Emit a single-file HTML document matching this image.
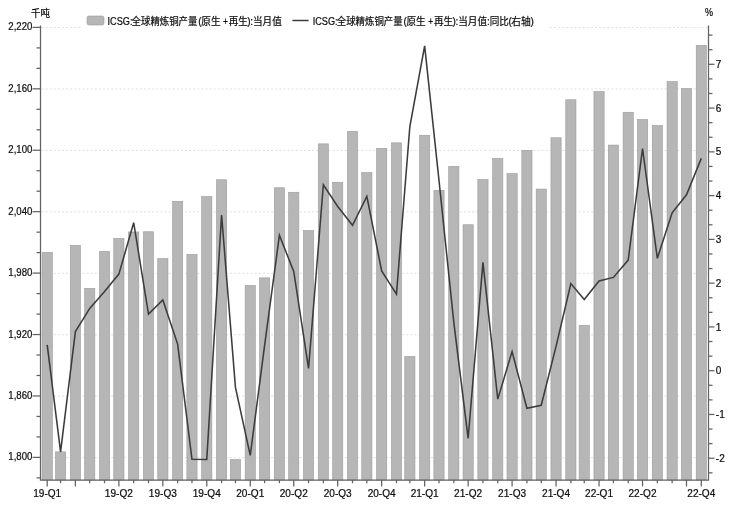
<!DOCTYPE html>
<html lang="zh"><head><meta charset="utf-8"><title>ICSG</title>
<style>html,body{margin:0;padding:0;background:#fff}svg{display:block;filter:grayscale(1)}</style></head>
<body>
<svg width="730" height="505" viewBox="0 0 730 505">
<rect width="730" height="505" fill="#fff"/>
<line x1="41.5" x2="707.5" y1="457.60" y2="457.60" stroke="#dedede" stroke-width="1" stroke-dasharray="2 2.1"/>
<line x1="41.5" x2="707.5" y1="396.17" y2="396.17" stroke="#dedede" stroke-width="1" stroke-dasharray="2 2.1"/>
<line x1="41.5" x2="707.5" y1="334.74" y2="334.74" stroke="#dedede" stroke-width="1" stroke-dasharray="2 2.1"/>
<line x1="41.5" x2="707.5" y1="273.31" y2="273.31" stroke="#dedede" stroke-width="1" stroke-dasharray="2 2.1"/>
<line x1="41.5" x2="707.5" y1="211.89" y2="211.89" stroke="#dedede" stroke-width="1" stroke-dasharray="2 2.1"/>
<line x1="41.5" x2="707.5" y1="150.46" y2="150.46" stroke="#dedede" stroke-width="1" stroke-dasharray="2 2.1"/>
<line x1="41.5" x2="707.5" y1="89.03" y2="89.03" stroke="#dedede" stroke-width="1" stroke-dasharray="2 2.1"/>
<line x1="41.5" x2="707.5" y1="27.60" y2="27.60" stroke="#dedede" stroke-width="1" stroke-dasharray="2 2.1"/>
<rect x="82" y="10" width="466" height="22" fill="#fff"/>
<rect x="42.10" y="252.35" width="10.2" height="227.65" fill="#b6b6b6" stroke="#9c9c9c" stroke-width="0.6"/>
<rect x="55.48" y="451.85" width="10.2" height="28.15" fill="#b6b6b6" stroke="#9c9c9c" stroke-width="0.6"/>
<rect x="70.29" y="245.35" width="10.2" height="234.65" fill="#b6b6b6" stroke="#9c9c9c" stroke-width="0.6"/>
<rect x="84.62" y="288.35" width="10.2" height="191.65" fill="#b6b6b6" stroke="#9c9c9c" stroke-width="0.6"/>
<rect x="99.44" y="251.35" width="10.2" height="228.65" fill="#b6b6b6" stroke="#9c9c9c" stroke-width="0.6"/>
<rect x="113.77" y="238.35" width="10.2" height="241.65" fill="#b6b6b6" stroke="#9c9c9c" stroke-width="0.6"/>
<rect x="128.58" y="231.95" width="10.2" height="248.05" fill="#b6b6b6" stroke="#9c9c9c" stroke-width="0.6"/>
<rect x="143.39" y="231.75" width="10.2" height="248.25" fill="#b6b6b6" stroke="#9c9c9c" stroke-width="0.6"/>
<rect x="157.73" y="258.55" width="10.2" height="221.45" fill="#b6b6b6" stroke="#9c9c9c" stroke-width="0.6"/>
<rect x="172.54" y="201.35" width="10.2" height="278.65" fill="#b6b6b6" stroke="#9c9c9c" stroke-width="0.6"/>
<rect x="186.87" y="254.35" width="10.2" height="225.65" fill="#b6b6b6" stroke="#9c9c9c" stroke-width="0.6"/>
<rect x="201.68" y="196.55" width="10.2" height="283.45" fill="#b6b6b6" stroke="#9c9c9c" stroke-width="0.6"/>
<rect x="216.49" y="179.75" width="10.2" height="300.25" fill="#b6b6b6" stroke="#9c9c9c" stroke-width="0.6"/>
<rect x="230.35" y="459.45" width="10.2" height="20.55" fill="#b6b6b6" stroke="#9c9c9c" stroke-width="0.6"/>
<rect x="245.16" y="285.55" width="10.2" height="194.45" fill="#b6b6b6" stroke="#9c9c9c" stroke-width="0.6"/>
<rect x="259.50" y="277.85" width="10.2" height="202.15" fill="#b6b6b6" stroke="#9c9c9c" stroke-width="0.6"/>
<rect x="274.31" y="187.75" width="10.2" height="292.25" fill="#b6b6b6" stroke="#9c9c9c" stroke-width="0.6"/>
<rect x="288.64" y="192.25" width="10.2" height="287.75" fill="#b6b6b6" stroke="#9c9c9c" stroke-width="0.6"/>
<rect x="303.45" y="230.45" width="10.2" height="249.55" fill="#b6b6b6" stroke="#9c9c9c" stroke-width="0.6"/>
<rect x="318.26" y="143.85" width="10.2" height="336.15" fill="#b6b6b6" stroke="#9c9c9c" stroke-width="0.6"/>
<rect x="332.60" y="182.25" width="10.2" height="297.75" fill="#b6b6b6" stroke="#9c9c9c" stroke-width="0.6"/>
<rect x="347.41" y="131.35" width="10.2" height="348.65" fill="#b6b6b6" stroke="#9c9c9c" stroke-width="0.6"/>
<rect x="361.74" y="172.45" width="10.2" height="307.55" fill="#b6b6b6" stroke="#9c9c9c" stroke-width="0.6"/>
<rect x="376.56" y="148.35" width="10.2" height="331.65" fill="#b6b6b6" stroke="#9c9c9c" stroke-width="0.6"/>
<rect x="391.37" y="142.85" width="10.2" height="337.15" fill="#b6b6b6" stroke="#9c9c9c" stroke-width="0.6"/>
<rect x="404.75" y="356.45" width="10.2" height="123.55" fill="#b6b6b6" stroke="#9c9c9c" stroke-width="0.6"/>
<rect x="419.56" y="135.25" width="10.2" height="344.75" fill="#b6b6b6" stroke="#9c9c9c" stroke-width="0.6"/>
<rect x="433.89" y="190.25" width="10.2" height="289.75" fill="#b6b6b6" stroke="#9c9c9c" stroke-width="0.6"/>
<rect x="448.70" y="166.35" width="10.2" height="313.65" fill="#b6b6b6" stroke="#9c9c9c" stroke-width="0.6"/>
<rect x="463.04" y="224.75" width="10.2" height="255.25" fill="#b6b6b6" stroke="#9c9c9c" stroke-width="0.6"/>
<rect x="477.85" y="179.55" width="10.2" height="300.45" fill="#b6b6b6" stroke="#9c9c9c" stroke-width="0.6"/>
<rect x="492.66" y="158.35" width="10.2" height="321.65" fill="#b6b6b6" stroke="#9c9c9c" stroke-width="0.6"/>
<rect x="506.99" y="173.55" width="10.2" height="306.45" fill="#b6b6b6" stroke="#9c9c9c" stroke-width="0.6"/>
<rect x="521.81" y="150.35" width="10.2" height="329.65" fill="#b6b6b6" stroke="#9c9c9c" stroke-width="0.6"/>
<rect x="536.14" y="189.05" width="10.2" height="290.95" fill="#b6b6b6" stroke="#9c9c9c" stroke-width="0.6"/>
<rect x="550.95" y="137.75" width="10.2" height="342.25" fill="#b6b6b6" stroke="#9c9c9c" stroke-width="0.6"/>
<rect x="565.76" y="99.75" width="10.2" height="380.25" fill="#b6b6b6" stroke="#9c9c9c" stroke-width="0.6"/>
<rect x="579.14" y="325.35" width="10.2" height="154.65" fill="#b6b6b6" stroke="#9c9c9c" stroke-width="0.6"/>
<rect x="593.95" y="91.55" width="10.2" height="388.45" fill="#b6b6b6" stroke="#9c9c9c" stroke-width="0.6"/>
<rect x="608.29" y="145.05" width="10.2" height="334.95" fill="#b6b6b6" stroke="#9c9c9c" stroke-width="0.6"/>
<rect x="623.10" y="112.25" width="10.2" height="367.75" fill="#b6b6b6" stroke="#9c9c9c" stroke-width="0.6"/>
<rect x="637.43" y="119.45" width="10.2" height="360.55" fill="#b6b6b6" stroke="#9c9c9c" stroke-width="0.6"/>
<rect x="652.24" y="125.45" width="10.2" height="354.55" fill="#b6b6b6" stroke="#9c9c9c" stroke-width="0.6"/>
<rect x="667.05" y="81.55" width="10.2" height="398.45" fill="#b6b6b6" stroke="#9c9c9c" stroke-width="0.6"/>
<rect x="681.39" y="88.55" width="10.2" height="391.45" fill="#b6b6b6" stroke="#9c9c9c" stroke-width="0.6"/>
<rect x="696.20" y="45.35" width="10.2" height="434.65" fill="#b6b6b6" stroke="#9c9c9c" stroke-width="0.6"/>
<path d="M40.5 25.5V480.0H708.5V25.5" fill="none" stroke="#626262" stroke-width="1.25"/>
<line x1="36.5" x2="40.5" y1="477.88" y2="477.88" stroke="#626262" stroke-width="1.25"/>
<line x1="32.5" x2="40.5" y1="457.40" y2="457.40" stroke="#626262" stroke-width="1.25"/>
<line x1="36.5" x2="40.5" y1="436.92" y2="436.92" stroke="#626262" stroke-width="1.25"/>
<line x1="36.5" x2="40.5" y1="416.45" y2="416.45" stroke="#626262" stroke-width="1.25"/>
<line x1="32.5" x2="40.5" y1="395.97" y2="395.97" stroke="#626262" stroke-width="1.25"/>
<line x1="36.5" x2="40.5" y1="375.50" y2="375.50" stroke="#626262" stroke-width="1.25"/>
<line x1="36.5" x2="40.5" y1="355.02" y2="355.02" stroke="#626262" stroke-width="1.25"/>
<line x1="32.5" x2="40.5" y1="334.54" y2="334.54" stroke="#626262" stroke-width="1.25"/>
<line x1="36.5" x2="40.5" y1="314.07" y2="314.07" stroke="#626262" stroke-width="1.25"/>
<line x1="36.5" x2="40.5" y1="293.59" y2="293.59" stroke="#626262" stroke-width="1.25"/>
<line x1="32.5" x2="40.5" y1="273.11" y2="273.11" stroke="#626262" stroke-width="1.25"/>
<line x1="36.5" x2="40.5" y1="252.64" y2="252.64" stroke="#626262" stroke-width="1.25"/>
<line x1="36.5" x2="40.5" y1="232.16" y2="232.16" stroke="#626262" stroke-width="1.25"/>
<line x1="32.5" x2="40.5" y1="211.69" y2="211.69" stroke="#626262" stroke-width="1.25"/>
<line x1="36.5" x2="40.5" y1="191.21" y2="191.21" stroke="#626262" stroke-width="1.25"/>
<line x1="36.5" x2="40.5" y1="170.73" y2="170.73" stroke="#626262" stroke-width="1.25"/>
<line x1="32.5" x2="40.5" y1="150.26" y2="150.26" stroke="#626262" stroke-width="1.25"/>
<line x1="36.5" x2="40.5" y1="129.78" y2="129.78" stroke="#626262" stroke-width="1.25"/>
<line x1="36.5" x2="40.5" y1="109.30" y2="109.30" stroke="#626262" stroke-width="1.25"/>
<line x1="32.5" x2="40.5" y1="88.83" y2="88.83" stroke="#626262" stroke-width="1.25"/>
<line x1="36.5" x2="40.5" y1="68.35" y2="68.35" stroke="#626262" stroke-width="1.25"/>
<line x1="36.5" x2="40.5" y1="47.88" y2="47.88" stroke="#626262" stroke-width="1.25"/>
<line x1="32.5" x2="40.5" y1="27.40" y2="27.40" stroke="#626262" stroke-width="1.25"/>
<line x1="708.5" x2="712.5" y1="472.83" y2="472.83" stroke="#626262" stroke-width="1.25"/>
<line x1="708.5" x2="714.5" y1="458.24" y2="458.24" stroke="#626262" stroke-width="1.25"/>
<line x1="708.5" x2="712.5" y1="443.65" y2="443.65" stroke="#626262" stroke-width="1.25"/>
<line x1="708.5" x2="712.5" y1="429.06" y2="429.06" stroke="#626262" stroke-width="1.25"/>
<line x1="708.5" x2="714.5" y1="414.47" y2="414.47" stroke="#626262" stroke-width="1.25"/>
<line x1="708.5" x2="712.5" y1="399.88" y2="399.88" stroke="#626262" stroke-width="1.25"/>
<line x1="708.5" x2="712.5" y1="385.29" y2="385.29" stroke="#626262" stroke-width="1.25"/>
<line x1="708.5" x2="714.5" y1="370.70" y2="370.70" stroke="#626262" stroke-width="1.25"/>
<line x1="708.5" x2="712.5" y1="356.11" y2="356.11" stroke="#626262" stroke-width="1.25"/>
<line x1="708.5" x2="712.5" y1="341.52" y2="341.52" stroke="#626262" stroke-width="1.25"/>
<line x1="708.5" x2="714.5" y1="326.93" y2="326.93" stroke="#626262" stroke-width="1.25"/>
<line x1="708.5" x2="712.5" y1="312.34" y2="312.34" stroke="#626262" stroke-width="1.25"/>
<line x1="708.5" x2="712.5" y1="297.75" y2="297.75" stroke="#626262" stroke-width="1.25"/>
<line x1="708.5" x2="714.5" y1="283.16" y2="283.16" stroke="#626262" stroke-width="1.25"/>
<line x1="708.5" x2="712.5" y1="268.57" y2="268.57" stroke="#626262" stroke-width="1.25"/>
<line x1="708.5" x2="712.5" y1="253.98" y2="253.98" stroke="#626262" stroke-width="1.25"/>
<line x1="708.5" x2="714.5" y1="239.39" y2="239.39" stroke="#626262" stroke-width="1.25"/>
<line x1="708.5" x2="712.5" y1="224.80" y2="224.80" stroke="#626262" stroke-width="1.25"/>
<line x1="708.5" x2="712.5" y1="210.21" y2="210.21" stroke="#626262" stroke-width="1.25"/>
<line x1="708.5" x2="714.5" y1="195.62" y2="195.62" stroke="#626262" stroke-width="1.25"/>
<line x1="708.5" x2="712.5" y1="181.03" y2="181.03" stroke="#626262" stroke-width="1.25"/>
<line x1="708.5" x2="712.5" y1="166.44" y2="166.44" stroke="#626262" stroke-width="1.25"/>
<line x1="708.5" x2="714.5" y1="151.85" y2="151.85" stroke="#626262" stroke-width="1.25"/>
<line x1="708.5" x2="712.5" y1="137.26" y2="137.26" stroke="#626262" stroke-width="1.25"/>
<line x1="708.5" x2="712.5" y1="122.67" y2="122.67" stroke="#626262" stroke-width="1.25"/>
<line x1="708.5" x2="714.5" y1="108.08" y2="108.08" stroke="#626262" stroke-width="1.25"/>
<line x1="708.5" x2="712.5" y1="93.49" y2="93.49" stroke="#626262" stroke-width="1.25"/>
<line x1="708.5" x2="712.5" y1="78.90" y2="78.90" stroke="#626262" stroke-width="1.25"/>
<line x1="708.5" x2="714.5" y1="64.31" y2="64.31" stroke="#626262" stroke-width="1.25"/>
<line x1="708.5" x2="712.5" y1="49.72" y2="49.72" stroke="#626262" stroke-width="1.25"/>
<line x1="708.5" x2="712.5" y1="35.13" y2="35.13" stroke="#626262" stroke-width="1.25"/>
<line x1="47.20" x2="47.20" y1="480.0" y2="486.5" stroke="#626262" stroke-width="1.25"/>
<line x1="60.58" x2="60.58" y1="480.0" y2="483.2" stroke="#626262" stroke-width="1.25"/>
<line x1="75.39" x2="75.39" y1="480.0" y2="486.5" stroke="#626262" stroke-width="1.25"/>
<line x1="89.72" x2="89.72" y1="480.0" y2="483.2" stroke="#626262" stroke-width="1.25"/>
<line x1="104.54" x2="104.54" y1="480.0" y2="483.2" stroke="#626262" stroke-width="1.25"/>
<line x1="118.87" x2="118.87" y1="480.0" y2="486.5" stroke="#626262" stroke-width="1.25"/>
<line x1="133.68" x2="133.68" y1="480.0" y2="483.2" stroke="#626262" stroke-width="1.25"/>
<line x1="148.49" x2="148.49" y1="480.0" y2="483.2" stroke="#626262" stroke-width="1.25"/>
<line x1="162.83" x2="162.83" y1="480.0" y2="486.5" stroke="#626262" stroke-width="1.25"/>
<line x1="177.64" x2="177.64" y1="480.0" y2="483.2" stroke="#626262" stroke-width="1.25"/>
<line x1="191.97" x2="191.97" y1="480.0" y2="483.2" stroke="#626262" stroke-width="1.25"/>
<line x1="206.78" x2="206.78" y1="480.0" y2="486.5" stroke="#626262" stroke-width="1.25"/>
<line x1="221.59" x2="221.59" y1="480.0" y2="483.2" stroke="#626262" stroke-width="1.25"/>
<line x1="235.45" x2="235.45" y1="480.0" y2="483.2" stroke="#626262" stroke-width="1.25"/>
<line x1="250.26" x2="250.26" y1="480.0" y2="486.5" stroke="#626262" stroke-width="1.25"/>
<line x1="264.60" x2="264.60" y1="480.0" y2="483.2" stroke="#626262" stroke-width="1.25"/>
<line x1="279.41" x2="279.41" y1="480.0" y2="483.2" stroke="#626262" stroke-width="1.25"/>
<line x1="293.74" x2="293.74" y1="480.0" y2="486.5" stroke="#626262" stroke-width="1.25"/>
<line x1="308.55" x2="308.55" y1="480.0" y2="483.2" stroke="#626262" stroke-width="1.25"/>
<line x1="323.36" x2="323.36" y1="480.0" y2="483.2" stroke="#626262" stroke-width="1.25"/>
<line x1="337.70" x2="337.70" y1="480.0" y2="486.5" stroke="#626262" stroke-width="1.25"/>
<line x1="352.51" x2="352.51" y1="480.0" y2="483.2" stroke="#626262" stroke-width="1.25"/>
<line x1="366.84" x2="366.84" y1="480.0" y2="483.2" stroke="#626262" stroke-width="1.25"/>
<line x1="381.66" x2="381.66" y1="480.0" y2="486.5" stroke="#626262" stroke-width="1.25"/>
<line x1="396.47" x2="396.47" y1="480.0" y2="483.2" stroke="#626262" stroke-width="1.25"/>
<line x1="409.85" x2="409.85" y1="480.0" y2="483.2" stroke="#626262" stroke-width="1.25"/>
<line x1="424.66" x2="424.66" y1="480.0" y2="486.5" stroke="#626262" stroke-width="1.25"/>
<line x1="438.99" x2="438.99" y1="480.0" y2="483.2" stroke="#626262" stroke-width="1.25"/>
<line x1="453.80" x2="453.80" y1="480.0" y2="483.2" stroke="#626262" stroke-width="1.25"/>
<line x1="468.14" x2="468.14" y1="480.0" y2="486.5" stroke="#626262" stroke-width="1.25"/>
<line x1="482.95" x2="482.95" y1="480.0" y2="483.2" stroke="#626262" stroke-width="1.25"/>
<line x1="497.76" x2="497.76" y1="480.0" y2="483.2" stroke="#626262" stroke-width="1.25"/>
<line x1="512.09" x2="512.09" y1="480.0" y2="486.5" stroke="#626262" stroke-width="1.25"/>
<line x1="526.91" x2="526.91" y1="480.0" y2="483.2" stroke="#626262" stroke-width="1.25"/>
<line x1="541.24" x2="541.24" y1="480.0" y2="483.2" stroke="#626262" stroke-width="1.25"/>
<line x1="556.05" x2="556.05" y1="480.0" y2="486.5" stroke="#626262" stroke-width="1.25"/>
<line x1="570.86" x2="570.86" y1="480.0" y2="483.2" stroke="#626262" stroke-width="1.25"/>
<line x1="584.24" x2="584.24" y1="480.0" y2="483.2" stroke="#626262" stroke-width="1.25"/>
<line x1="599.05" x2="599.05" y1="480.0" y2="486.5" stroke="#626262" stroke-width="1.25"/>
<line x1="613.39" x2="613.39" y1="480.0" y2="483.2" stroke="#626262" stroke-width="1.25"/>
<line x1="628.20" x2="628.20" y1="480.0" y2="483.2" stroke="#626262" stroke-width="1.25"/>
<line x1="642.53" x2="642.53" y1="480.0" y2="486.5" stroke="#626262" stroke-width="1.25"/>
<line x1="657.34" x2="657.34" y1="480.0" y2="483.2" stroke="#626262" stroke-width="1.25"/>
<line x1="672.15" x2="672.15" y1="480.0" y2="483.2" stroke="#626262" stroke-width="1.25"/>
<line x1="686.49" x2="686.49" y1="480.0" y2="486.5" stroke="#626262" stroke-width="1.25"/>
<line x1="701.30" x2="701.30" y1="480.0" y2="486.5" stroke="#626262" stroke-width="1.25"/>
<polyline points="47.20,344.80 60.58,451.80 75.39,331.60 89.72,308.40 104.54,291.60 118.87,274.10 133.68,222.70 148.49,314.10 162.83,299.90 177.64,344.10 191.97,459.30 206.78,459.40 221.59,215.00 235.45,387.40 250.26,455.30 264.60,345.40 279.41,235.30 293.74,271.40 308.55,368.40 323.36,184.80 337.70,206.50 352.51,225.30 366.84,196.40 381.66,270.90 396.47,294.10 409.85,126.50 424.66,45.90 438.99,180.40 453.80,322.40 468.14,438.30 482.95,262.40 497.76,399.10 512.09,351.50 526.91,408.30 541.24,405.30 556.05,346.40 570.86,283.60 584.24,299.60 599.05,280.90 613.39,277.40 628.20,260.10 642.53,148.70 657.34,258.30 672.15,212.80 686.49,194.80 701.30,158.40" fill="none" stroke="#3c3c3c" stroke-width="1.55" stroke-linejoin="miter"/>
<g font-family="&quot;Liberation Sans&quot;, &quot;Noto Sans CJK SC&quot;, sans-serif" font-size="10" fill="#0d0d0d" stroke="#0d0d0d" stroke-width="0.22" stroke-linejoin="round">
<text x="32.3" y="460.40" text-anchor="end" textLength="24" lengthAdjust="spacingAndGlyphs">1,800</text>
<text x="32.3" y="398.97" text-anchor="end" textLength="24" lengthAdjust="spacingAndGlyphs">1,860</text>
<text x="32.3" y="337.54" text-anchor="end" textLength="24" lengthAdjust="spacingAndGlyphs">1,920</text>
<text x="32.3" y="276.11" text-anchor="end" textLength="24" lengthAdjust="spacingAndGlyphs">1,980</text>
<text x="32.3" y="214.69" text-anchor="end" textLength="24" lengthAdjust="spacingAndGlyphs">2,040</text>
<text x="32.3" y="153.26" text-anchor="end" textLength="24" lengthAdjust="spacingAndGlyphs">2,100</text>
<text x="32.3" y="91.83" text-anchor="end" textLength="24" lengthAdjust="spacingAndGlyphs">2,160</text>
<text x="32.3" y="30.40" text-anchor="end" textLength="24" lengthAdjust="spacingAndGlyphs">2,220</text>
<text x="715.8" y="461.84">-2</text>
<text x="715.8" y="418.07">-1</text>
<text x="715.8" y="374.30">0</text>
<text x="715.8" y="330.53">1</text>
<text x="715.8" y="286.76">2</text>
<text x="715.8" y="242.99">3</text>
<text x="715.8" y="199.22">4</text>
<text x="715.8" y="155.45">5</text>
<text x="715.8" y="111.68">6</text>
<text x="715.8" y="67.91">7</text>
<text x="47.20" y="497" text-anchor="middle" textLength="28" lengthAdjust="spacingAndGlyphs">19-Q1</text>
<text x="118.87" y="497" text-anchor="middle" textLength="28" lengthAdjust="spacingAndGlyphs">19-Q2</text>
<text x="162.83" y="497" text-anchor="middle" textLength="28" lengthAdjust="spacingAndGlyphs">19-Q3</text>
<text x="206.78" y="497" text-anchor="middle" textLength="28" lengthAdjust="spacingAndGlyphs">19-Q4</text>
<text x="250.26" y="497" text-anchor="middle" textLength="28" lengthAdjust="spacingAndGlyphs">20-Q1</text>
<text x="293.74" y="497" text-anchor="middle" textLength="28" lengthAdjust="spacingAndGlyphs">20-Q2</text>
<text x="337.70" y="497" text-anchor="middle" textLength="28" lengthAdjust="spacingAndGlyphs">20-Q3</text>
<text x="381.66" y="497" text-anchor="middle" textLength="28" lengthAdjust="spacingAndGlyphs">20-Q4</text>
<text x="424.66" y="497" text-anchor="middle" textLength="28" lengthAdjust="spacingAndGlyphs">21-Q1</text>
<text x="468.14" y="497" text-anchor="middle" textLength="28" lengthAdjust="spacingAndGlyphs">21-Q2</text>
<text x="512.09" y="497" text-anchor="middle" textLength="28" lengthAdjust="spacingAndGlyphs">21-Q3</text>
<text x="556.05" y="497" text-anchor="middle" textLength="28" lengthAdjust="spacingAndGlyphs">21-Q4</text>
<text x="599.05" y="497" text-anchor="middle" textLength="28" lengthAdjust="spacingAndGlyphs">22-Q1</text>
<text x="642.53" y="497" text-anchor="middle" textLength="28" lengthAdjust="spacingAndGlyphs">22-Q2</text>
<text x="701.30" y="497" text-anchor="middle" textLength="28" lengthAdjust="spacingAndGlyphs">22-Q4</text>
<text x="31" y="16.5" textLength="19" lengthAdjust="spacingAndGlyphs">千吨</text>
<text x="705" y="16.2" textLength="8" lengthAdjust="spacingAndGlyphs">%</text>
<text y="24.7"><tspan x="107.50" textLength="24.95" lengthAdjust="spacingAndGlyphs">ICSG:</tspan><tspan x="131.60" textLength="65.8" lengthAdjust="spacingAndGlyphs">全球精炼铜产量</tspan><tspan x="198.30">(</tspan><tspan x="201.30" textLength="19.2" lengthAdjust="spacingAndGlyphs">原生</tspan><tspan x="223.00" textLength="5.0" lengthAdjust="spacingAndGlyphs">+</tspan><tspan x="228.70" textLength="19.2" lengthAdjust="spacingAndGlyphs">再生</tspan><tspan x="247.30">)</tspan><tspan x="250.20">:</tspan><tspan x="253.00" textLength="28.8" lengthAdjust="spacingAndGlyphs">当月值</tspan></text>
<text y="24.7"><tspan x="312.70" textLength="24.95" lengthAdjust="spacingAndGlyphs">ICSG:</tspan><tspan x="336.80" textLength="65.8" lengthAdjust="spacingAndGlyphs">全球精炼铜产量</tspan><tspan x="403.50">(</tspan><tspan x="406.50" textLength="19.2" lengthAdjust="spacingAndGlyphs">原生</tspan><tspan x="428.20" textLength="5.0" lengthAdjust="spacingAndGlyphs">+</tspan><tspan x="433.90" textLength="19.2" lengthAdjust="spacingAndGlyphs">再生</tspan><tspan x="452.50">)</tspan><tspan x="455.40">:</tspan><tspan x="458.20" textLength="28.8" lengthAdjust="spacingAndGlyphs">当月值</tspan><tspan x="486.90">:</tspan><tspan x="489.70" textLength="19.2" lengthAdjust="spacingAndGlyphs">同比</tspan><tspan x="508.60">(</tspan><tspan x="511.30" textLength="19.5" lengthAdjust="spacingAndGlyphs">右轴</tspan><tspan x="530.40">)</tspan></text>
</g>
<rect x="87" y="16" width="17" height="9" rx="2" fill="#b6b6b6" stroke="#9c9c9c" stroke-width="0.6"/>
<line x1="292.4" x2="308.6" y1="20.5" y2="20.5" stroke="#3c3c3c" stroke-width="1.5"/>
</svg>
</body></html>
